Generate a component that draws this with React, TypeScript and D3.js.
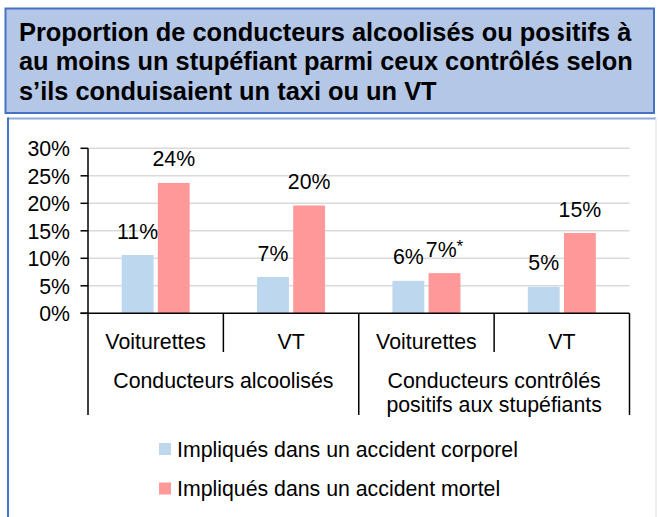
import * as d3 from 'd3'

const categories = ['Voiturettes', 'VT', 'Voiturettes', 'VT']
const groups = [
  { label: ['Conducteurs alcoolisés'], span: [0, 2] },
  { label: ['Conducteurs contrôlés', 'positifs aux stupéfiants'], span: [2, 4] },
]
const seriesNames = ['Impliqués dans un accident corporel', 'Impliqués dans un accident mortel']
const corporel = [0.106, 0.066, 0.059, 0.048]
const mortel = [0.237, 0.196, 0.073, 0.146]
const corporelLabels = ['11%', '7%', '6%', '5%']
const mortelLabels = ['24%', '20%', '7%', '15%']
const mortelStars = ['', '', '*', '']
const yTicks = [0, 0.05, 0.1, 0.15, 0.2, 0.25, 0.3]
const titleLines = [
  'Proportion de conducteurs alcoolisés ou positifs à',
  'au moins un stupéfiant parmi ceux contrôlés selon',
  's’ils conduisaient un taxi ou un VT',
]

const colors = ['#bdd7ee', '#ff9999']
const font = '"Liberation Sans", Arial, sans-serif'
const fs = 21.3

export default function App() {
  const W = 658
  const H = 517
  const left = 88
  const right = 629.5
  const top = 148.3
  const bottom = 313.3

  const x = d3.scaleBand<number>().domain(d3.range(categories.length)).range([left, right])
  const inner = d3.scaleBand<number>().domain([0, 1]).range([0, 68]).paddingInner(0.118)
  const y = d3.scaleLinear().domain([0, 0.3]).range([bottom, top])
  const fmt = d3.format('.0%')

  const series = [corporel, mortel]
  const labels = [corporelLabels, mortelLabels]

  return (
    <div style={{ position: 'absolute', left: 0, top: 0, width: W, height: H }}>
      <svg width={W} height={H} style={{ display: 'block', fontFamily: font }}>
        <rect x={0} y={0} width={W} height={H} fill="#fff" />
        {/* title box */}
        <rect x={5.5} y={8.5} width={648.5} height={104.5} fill="#b4c7e7" stroke="#4472c4" strokeWidth={2} />
        {titleLines.map((t, i) => (
          <text key={i} x={19} y={40.5 + i * 29.7} fontSize={25.4} fontWeight="bold" fill="#000">
            {t}
          </text>
        ))}
        {/* chart box */}
        <line x1={8} x2={656} y1={118.5} y2={118.5} stroke="#8eaadb" strokeWidth={2} />
        <line x1={656} x2={656} y1={118.5} y2={H} stroke="#e4e8ef" strokeWidth={1.5} />
        <line x1={8} x2={8} y1={117.5} y2={H} stroke="#4472c4" strokeWidth={2} />

        {/* gridlines */}
        {yTicks.filter(t => t > 0).map(t => (
          <line key={t} x1={left} x2={right} y1={y(t)} y2={y(t)} stroke="#d9d9d9" strokeWidth={1.5} />
        ))}
        {/* y ticks */}
        {yTicks.map(t => (
          <g key={t}>
            <line x1={80.5} x2={left} y1={y(t)} y2={y(t)} stroke="#000" strokeWidth={1.5} />
            <text x={70} y={y(t)} dy="0.38em" textAnchor="end" fontSize={fs} fill="#000">
              {fmt(t)}
            </text>
          </g>
        ))}

        {/* bars */}
        {series.map((vals, s) =>
          vals.map((v, i) => {
            const bx = x(i)! + (x.bandwidth() - 68) / 2 + inner(s)!
            return (
              <g key={`${s}-${i}`}>
                <rect x={bx} y={y(v)} width={inner.bandwidth()} height={bottom - y(v)} fill={colors[s]} />
                <text x={bx + inner.bandwidth() / 2} y={y(v) - 16.5} textAnchor="middle" fontSize={fs} fill="#000">
                  {labels[s][i]}
                  {s === 1 && mortelStars[i] ? (
                    <tspan fontSize={17} dy={-5}>{mortelStars[i]}</tspan>
                  ) : null}
                </text>
              </g>
            )
          })
        )}

        {/* axes */}
        <line x1={left} x2={left} y1={top} y2={bottom} stroke="#000" strokeWidth={1.5} />
        <line x1={80.5} x2={right} y1={bottom} y2={bottom} stroke="#000" strokeWidth={1.5} />
        {/* category separators */}
        {d3.range(categories.length + 1).map(i => {
          const px = i < categories.length ? x(i)! : right
          const long = i % 2 === 0
          return (
            <line key={i} x1={px} x2={px} y1={bottom} y2={long ? 415 : 352} stroke="#000" strokeWidth={1.5} />
          )
        })}
        {categories.map((c, i) => (
          <text key={i} x={x(i)! + x.bandwidth() / 2} y={341} dy="0.36em" textAnchor="middle" fontSize={fs} fill="#000">
            {c}
          </text>
        ))}
        {groups.map((g, gi) => {
          const cx = (x(g.span[0])! + (g.span[1] < categories.length ? x(g.span[1])! : right)) / 2
          return g.label.map((l, li) => (
            <text key={`${gi}-${li}`} x={cx} y={380 + li * 24} dy="0.36em" textAnchor="middle" fontSize={fs} fill="#000">
              {l}
            </text>
          ))
        })}

        {/* legend */}
        {seriesNames.map((n, i) => (
          <g key={n} transform={`translate(159,${449 + i * 39.5})`}>
            <rect x={0} y={-6} width={12} height={12} fill={colors[i]} />
            <text x={18} y={0} dy="0.36em" fontSize={fs} fill="#000">
              {n}
            </text>
          </g>
        ))}
      </svg>
    </div>
  )
}
